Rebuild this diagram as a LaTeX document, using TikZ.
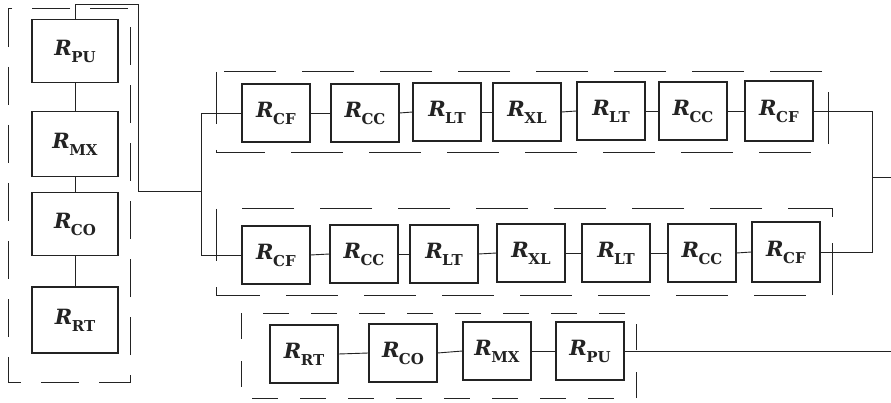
\documentclass[tikz,border=0pt]{standalone}
\usepackage{fontspec}
\setmainfont{DejaVu Serif}
\definecolor{ink}{RGB}{35,35,35}
\newcommand{\Rs}[1]{\textbf{\textit{R}}\kern-0.5pt\raisebox{-7pt}{\fontsize{15}{15}\selectfont\bfseries #1}}
\tikzset{
  box/.style={draw=ink, line width=1.1pt, minimum width=68pt, minimum height=58pt, inner sep=0pt,
    font=\fontsize{21}{22}\selectfont, text=ink},
  wire/.style={draw=ink, line width=0.9pt},
  dashbox/.style={draw=ink, line width=1pt, dash pattern=on 52pt off 26pt},
  dashboxs/.style={draw=ink, line width=1pt, dash pattern=on 26pt off 22pt},
  dashboxl/.style={draw=ink, line width=1pt, dash pattern=on 38pt off 20pt},
}
\begin{document}
\begin{tikzpicture}[x=1pt,y=-1pt]
\useasboundingbox[fill=white] (0,0) rectangle (891,403);

% left column
\node[box, minimum width=86pt, minimum height=63pt] (lPU) at (75,51) {\Rs{PU}};
\node[box, minimum width=86pt, minimum height=65pt] (lMX) at (75,144) {\Rs{MX}};
\node[box, minimum width=86pt, minimum height=63pt] (lCO) at (75,224) {\Rs{CO}};
\node[box, minimum width=86pt, minimum height=66pt] (lRT) at (75,320) {\Rs{RT}};
\draw[wire] (lPU) -- (lMX);
\draw[wire] (lMX) -- (lCO);
\draw[wire] (lCO) -- (lRT);
\draw[dashboxl] (8,9) rectangle (130,382);

% top row
\node[box] (t1) at (276,113) {\Rs{CF}};
\node[box] (t2) at (365,113) {\Rs{CC}};
\node[box] (t3) at (447,112) {\Rs{LT}};
\node[box] (t4) at (527,112) {\Rs{XL}};
\node[box] (t5) at (611,111) {\Rs{LT}};
\node[box] (t6) at (693,111) {\Rs{CC}};
\node[box, minimum height=60pt] (t7) at (779,111) {\Rs{CF}};
\draw[dashbox] (216,72) rectangle (828,153);

% second row
\node[box] (b1) at (276,255) {\Rs{CF}};
\node[box] (b2) at (364,254) {\Rs{CC}};
\node[box] (b3) at (444,254) {\Rs{LT}};
\node[box] (b4) at (531,253) {\Rs{XL}};
\node[box] (b5) at (616,253) {\Rs{LT}};
\node[box] (b6) at (702,253) {\Rs{CC}};
\node[box, minimum height=60pt] (b7) at (786,252) {\Rs{CF}};
\draw[dashbox] (216,209) rectangle (832,295);

% third row
\node[box] (r1) at (304,354) {\Rs{RT}};
\node[box] (r2) at (403,353) {\Rs{CO}};
\node[box] (r3) at (497,351) {\Rs{MX}};
\node[box] (r4) at (590,351) {\Rs{PU}};
\draw[dashboxs] (241,313) rectangle (636,398);

% chains
\foreach \a/\b in {t1/t2,t2/t3,t3/t4,t4/t5,t5/t6,t6/t7,
                   b1/b2,b2/b3,b3/b4,b4/b5,b5/b6,b6/b7,
                   r1/r2,r2/r3,r3/r4}
  \draw[wire] (\a.east) -- (\b.west);

% feed from left column to split
\coordinate (f1) at (75,4);
\coordinate (f2) at (138,4);
\coordinate (f3) at (138,191);
\coordinate (jm) at (201,191);
\coordinate (jt) at (201,113);
\coordinate (jb) at (201,255);
\draw[wire] (lPU.north) -- (f1) -- (f2) -- (f3) -- (jm);
\draw[wire] (t1.west) -- (jt) -- (jb) -- (b1.west);

% merge on the right
\coordinate (mt) at (872,111);
\coordinate (mb) at (872,252);
\coordinate (mo) at (872,177);
\coordinate (out1) at (891,177);
\draw[wire] (t7.east) -- (mt) -- (mb) -- (b7.east);
\draw[wire] (mo) -- (out1);

% output of third row
\coordinate (out2) at (891,351);
\draw[wire] (r4.east) -- (out2);
\end{tikzpicture}
\end{document}
